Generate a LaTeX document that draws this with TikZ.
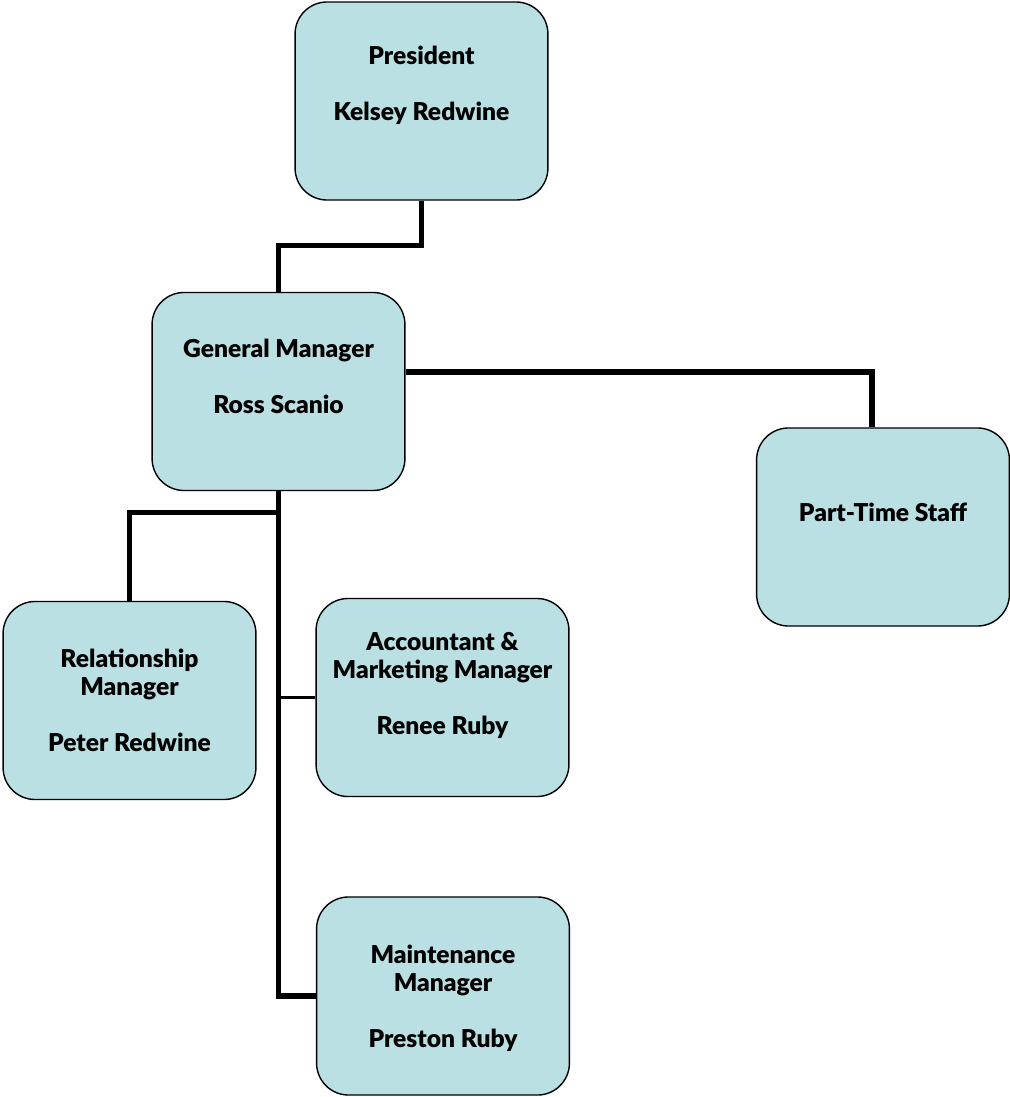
\documentclass[tikz,border=0pt]{standalone}
\usepackage{fontspec}
\setmainfont{Lato}[BoldFont={Lato Black}]
\usetikzlibrary{calc}
\definecolor{boite}{RGB}{186,224,227}
\tikzstyle{boite}  =[draw=black, line width=1pt, fill=boite, rounded corners=0.8cm, minimum width=6.32cm, minimum height=4.95cm, inner sep=0pt]
\tikzstyle{texte}  =[anchor=north, align=center, inner sep=0pt, font=\bfseries\fontsize{17.5pt}{19.9pt}\selectfont]
\tikzstyle{trait}  =[line width=3.6pt, line cap=butt]
\tikzstyle{fin}    =[line width=2pt, line cap=butt]

\begin{document}
\begin{tikzpicture}[x=0.025cm,y=-0.025cm]

\useasboundingbox (0,0) rectangle (1010,1097);

%%%%%%%%%%%%%%%%%%%%%%%%
%les cases de l'organigramme
%%%%%%%%%%%%%%%%%%%%%%%%

\node[boite] (pres)  at (421.5,101)   {};
\node[boite] (gm)    at (278.5,391.5) {};
\node[boite] (pt)    at (883,527)     {};
\node[boite] (rel)   at (129.5,700.5) {};
\node[boite] (acc)   at (442.5,697.5) {};
\node[boite] (maint) at (443,996)     {};

%les textes (décalés vers le haut de chaque case)
\node[texte] (tpres)  at (421.5,46) {President\\[19.9pt]Kelsey Redwine};
\node[texte] (tgm)    at (278.5,339) {General Manager\\[19.9pt]Ross Scanio};
\node[texte] (tpt)    at (883,503)  {Part-Time Staff};
\node[texte] (trel)   at (129.5,649) {Relationship\\Manager\\[19.9pt]Peter Redwine};
\node[texte] (tacc)   at (442.5,632) {Accountant \&\\Marketing Manager\\[19.9pt]Renee Ruby};
\node[texte] (tmaint) at (443,945)  {Maintenance\\Manager\\[19.9pt]Preston Ruby};

%%%%%%%%%%%%%%%%%%%%%%%%
%les liaisons
%%%%%%%%%%%%%%%%%%%%%%%%

\draw[trait] (pres.south) -- ++(0,45) -| (gm.north);
\draw[trait] (gm.east) ++(0,-19.5) -| ($(pt.north)+(-11,0)$);
\draw[trait] (gm.south) |- (maint.west);
\draw[trait] ($(gm.south)+(0,21)$) -| (rel.north);
\draw[fin] (gm.south |- acc.west) -- (acc.west);

\end{tikzpicture}
\end{document}
